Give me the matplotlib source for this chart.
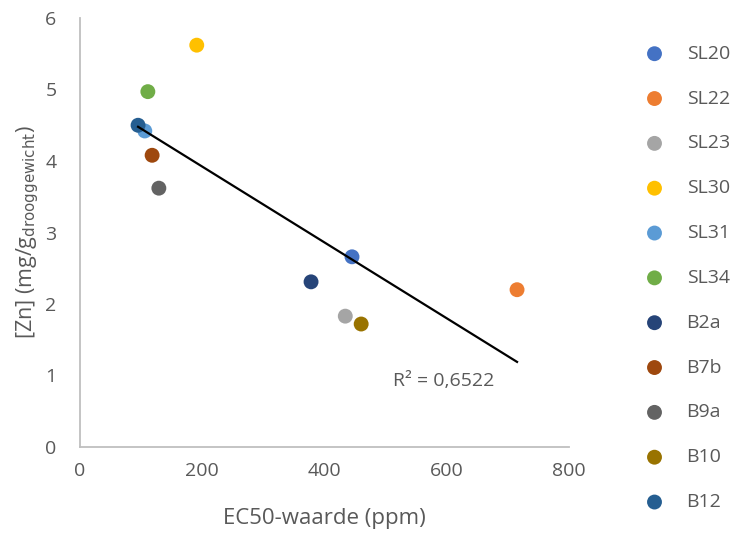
import numpy as np
import matplotlib.pyplot as plt

# Samples: EC50 value (ppm) vs zinc content (mg/g dry weight)
labels = ['SL20', 'SL22', 'SL23', 'SL30', 'SL31', 'SL34', 'B2a', 'B7b', 'B9a', 'B10', 'B12']
ec50 = [445, 715, 434, 191, 106, 111, 378, 118, 129, 460, 95]
zn = [2.66, 2.20, 1.83, 5.62, 4.42, 4.97, 2.31, 4.08, 3.62, 1.72, 4.50]
colors = ['#4472C4', '#ED7D31', '#A5A5A5', '#FFC000', '#5B9BD5', '#70AD47',
          '#264478', '#9E480E', '#636363', '#997300', '#255E91']

plt.rcParams['font.family'] = ['Open Sans', 'DejaVu Sans']
text_col = '#595959'

fig = plt.figure(figsize=(7.35, 5.33), dpi=100)
ax = fig.add_axes([80 / 735, 86 / 533, 489 / 735, 429 / 533])

for lab, x, y, c in zip(labels, ec50, zn, colors):
    ax.scatter(x, y, s=115, color=c, label=lab, zorder=3, edgecolors='none')

# linear trendline over the data range
x = np.array(ec50, dtype=float)
y = np.array(zn, dtype=float)
slope, intercept = np.polyfit(x, y, 1)
xs = np.array([x.min(), x.max()])
ax.plot(xs, slope * xs + intercept, color='black', lw=1.6, zorder=4)
ax.text(512, 0.92, 'R² = 0,6522', color=text_col, fontsize=14, va='center', ha='left')

ax.set_xlim(0, 800)
ax.set_ylim(0, 6)
ax.set_xticks(range(0, 801, 200))
ax.set_yticks(range(0, 7))
ax.tick_params(length=0, labelsize=14, colors=text_col)
ax.tick_params(axis='x', pad=11)
ax.tick_params(axis='y', pad=17)
for side in ['top', 'right']:
    ax.spines[side].set_visible(False)
for side in ['left', 'bottom']:
    ax.spines[side].set_color('#BFBFBF')
    ax.spines[side].set_linewidth(1.3)

ax.set_xlabel('EC50-waarde (ppm)', fontsize=16, color=text_col, labelpad=20)
ax.set_ylabel(r'[Zn] (mg/g$_{\mathrm{drooggewicht}}$)', fontsize=15.5, color=text_col, labelpad=3)

ax.legend(loc='center left', bbox_to_anchor=(557 / 489, 0.394), frameon=False,
          fontsize=14, labelcolor=text_col, handlelength=1.0, handletextpad=1.15,
          labelspacing=1.38, borderaxespad=0)

fig.savefig('out.png', dpi=100)
